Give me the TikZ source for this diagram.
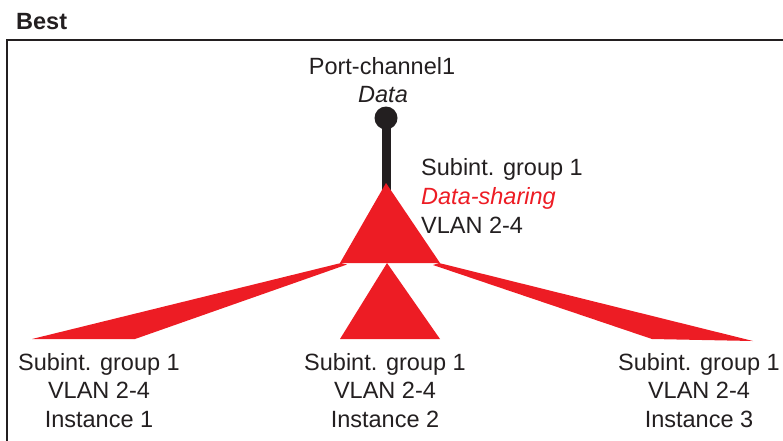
\documentclass[tikz,border=0pt]{standalone}
\usepackage{fontspec}
\setmainfont{Liberation Sans}
\definecolor{ink}{HTML}{231F20}
\definecolor{cred}{HTML}{ED1C24}
\begin{document}
\begin{tikzpicture}[x=1pt,y=-1pt,
  lbl/.style={inner sep=0pt,anchor=base,text=ink,font=\fontsize{23.5}{29}\selectfont},
  lbll/.style={lbl,anchor=base west},
  redshape/.style={fill=cred,draw=none}]
\useasboundingbox (0,0) rectangle (783,440);
% frame
\draw[ink,line width=2pt] (7,441) -- (7,40) -- (784,40);
\node[lbll,font=\fontsize{23.5}{29}\selectfont\bfseries] (best) at (16,29) {Best};
% top labels
\node[lbl] (pc) at (382,74) {Port-channel1};
\node[lbl] (data) at (383,102) {\itshape Data};
\node[lbll] (sg) at (421,175) {Subint. group 1};
\node[lbll,text=cred] (ds) at (421,204) {\itshape Data-sharing};
\node[lbll] (vl) at (421,233) {VLAN 2-4};
% stem
\draw[ink,line width=9pt] (386,118) -- (386,195);
\fill[ink] (386,118) circle (11.5);
% red shapes
\fill[redshape] (386,183) -- (440,263) -- (340,263) -- cycle;
\fill[redshape] (387,263) -- (440,339) -- (340,339) -- cycle;
\fill[redshape] (341,263) -- (32,339) -- (135,339) -- (347,264.5) -- cycle;
\fill[redshape] (439,263) -- (753,341) -- (652,339) -- (433,265) -- cycle;
% bottom labels
\node[lbl] (a1) at (99,370) {Subint. group 1};
\node[lbl] (a2) at (99,398) {VLAN 2-4};
\node[lbl] (a3) at (99,427) {Instance 1};
\node[lbl] (b1) at (385,370) {Subint. group 1};
\node[lbl] (b2) at (385,398) {VLAN 2-4};
\node[lbl] (b3) at (385,427) {Instance 2};
\node[lbl] (c1) at (699,370) {Subint. group 1};
\node[lbl] (c2) at (699,398) {VLAN 2-4};
\node[lbl] (c3) at (699,427) {Instance 3};
\end{tikzpicture}
\end{document}
